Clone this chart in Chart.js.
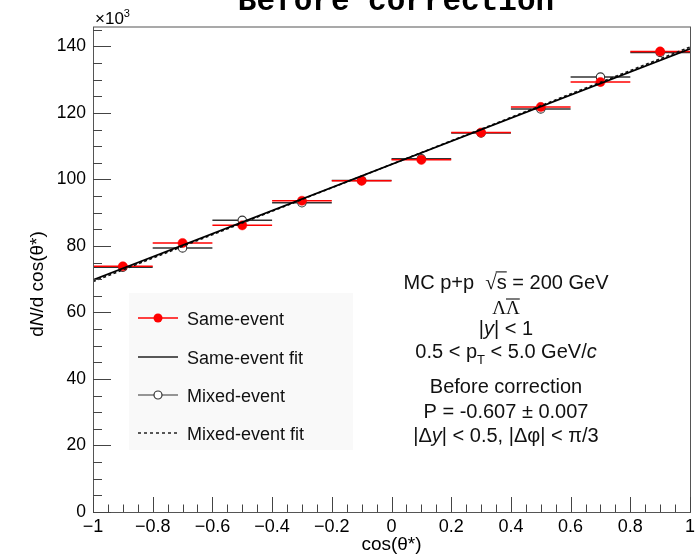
<!DOCTYPE html>
<html><head><meta charset="utf-8">
<script src="https://cdn.jsdelivr.net/npm/chart.js@4"></script>
<style>html,body{margin:0;padding:0;background:#fff;}#wrap{width:700px;height:556px;position:relative;}</style>
</head><body><div id="wrap"><canvas id="c" width="700" height="556"></canvas></div>
<script>
// ---- data (values in units of 10^3) ----
const binCenters = [-0.9, -0.7, -0.5, -0.3, -0.1, 0.1, 0.3, 0.5, 0.7, 0.9];
const binHalfWidth = 0.1;
const sameEvent  = [73.9, 80.9, 86.2, 93.6, 99.6, 105.9, 114.1, 121.8, 129.3, 138.5];
const mixedEvent = [73.6, 79.4, 87.7, 93.0, 99.7, 106.2, 114.0, 121.2, 130.8, 138.2];
const fitX = [-1, 1];
const sameFit  = [69.8, 139.3];
const mixedFit = [69.3, 139.8];
const xTicks = [-1, -0.8, -0.6, -0.4, -0.2, 0, 0.2, 0.4, 0.6, 0.8, 1];
const yTicks = [0, 20, 40, 60, 80, 100, 120, 140];
const xLimits = [-1, 1];
const yLimits = [0, 146];
const xMinorStep = 0.05;
const yMinorStep = 5;

const SANS = '"Liberation Sans", Arial, sans-serif';
const SERIF = '"Liberation Serif", "Times New Roman", serif';

function pts(xs, ys) { return xs.map((x, i) => ({ x: x, y: ys[i] })); }

function richWidth(ctx, segs, size) {
  let w = 0;
  for (const s of segs) {
    ctx.font = (s.italic ? 'italic ' : '') + (size * (s.scale || 1)) + 'px ' + (s.family || SANS);
    w += ctx.measureText(s.t).width;
  }
  return w;
}
function drawRich(ctx, segs, cx, baseY, size, align) {
  const w = richWidth(ctx, segs, size);
  let x = align === 'left' ? cx : cx - w / 2;
  ctx.textAlign = 'left';
  ctx.textBaseline = 'alphabetic';
  for (const s of segs) {
    const fs = size * (s.scale || 1);
    ctx.font = (s.italic ? 'italic ' : '') + fs + 'px ' + (s.family || SANS);
    const sw = ctx.measureText(s.t).width;
    ctx.fillText(s.t, x, baseY + (s.dy || 0));
    if (s.over) {
      ctx.save();
      ctx.lineWidth = 1.1;
      ctx.strokeStyle = ctx.fillStyle;
      ctx.beginPath();
      const oy = baseY + (s.dy || 0) - fs * (s.overH || 0.78);
      ctx.moveTo(x + (s.overL || 0), oy);
      ctx.lineTo(x + sw, oy);
      ctx.stroke();
      ctx.restore();
    }
    x += sw;
  }
}

const rootPlugin = {
  id: 'rootStyle',
  beforeDatasetDraw(chart, args) {
    const ds = chart.data.datasets[args.index];
    if (!ds.binBars) return;
    const ctx = chart.ctx, xs = chart.scales.x, ys = chart.scales.y;
    ctx.save();
    ctx.strokeStyle = ds.barColor;
    ctx.lineWidth = 1.5;
    ds.data.forEach(p => {
      const y = ys.getPixelForValue(p.y);
      ctx.beginPath();
      ctx.moveTo(xs.getPixelForValue(p.x - binHalfWidth), y);
      ctx.lineTo(xs.getPixelForValue(p.x + binHalfWidth), y);
      ctx.stroke();
    });
    ctx.restore();
  },
  afterDraw(chart) {
    const ctx = chart.ctx, a = chart.chartArea, xs = chart.scales.x, ys = chart.scales.y;
    ctx.save();
    // frame
    ctx.strokeStyle = '#555';
    ctx.lineWidth = 1;
    ctx.strokeRect(a.left + 0.5, a.top + 0.5, a.right - a.left, a.bottom - a.top);
    // ticks
    ctx.strokeStyle = '#444';
    ctx.beginPath();
    for (let v = yLimits[0]; v <= yLimits[1] + 1e-9; v += yMinorStep) {
      const y = Math.round(ys.getPixelForValue(v)) + 0.5;
      const major = yTicks.indexOf(Math.round(v * 1000) / 1000) >= 0;
      ctx.moveTo(a.left, y); ctx.lineTo(a.left + (major ? 18 : 9), y);
    }
    for (let k = 0; ; k++) {
      const v = xLimits[0] + k * xMinorStep;
      if (v > xLimits[1] + 1e-9) break;
      const x = Math.round(xs.getPixelForValue(v)) + 0.5;
      const major = k % 4 === 0;
      ctx.moveTo(x, a.bottom); ctx.lineTo(x, a.bottom - (major ? 15 : 7.5));
    }
    ctx.stroke();

    ctx.fillStyle = '#000';
    // title (clipped at top)
    ctx.font = 'bold 31px "Liberation Mono", "Courier New", monospace';
    ctx.textAlign = 'center'; ctx.textBaseline = 'alphabetic';
    ctx.fillText('Before correction', 396, 10);
    // x10^3
    drawRich(ctx, [{ t: '\u00d710' }, { t: '3', scale: 0.65, dy: -7 }], 95, 24, 17, 'left');
    // axis titles
    drawRich(ctx, [{ t: 'cos(\u03b8*)' }], (a.left + a.right) / 2, 550, 19);
    ctx.save();
    ctx.translate(43, 284);
    ctx.rotate(-Math.PI / 2);
    drawRich(ctx, [{ t: 'd' }, { t: 'N', italic: true }, { t: '/d cos(\u03b8*)' }], 0, 0, 19);
    ctx.restore();

    // legend
    ctx.fillStyle = '#f9f9f9';
    ctx.fillRect(129, 293, 224, 157);
    const lx0 = 138, lx1 = 178, tx = 187;
    const rows = [318, 357, 395, 433];
    ctx.lineWidth = 1.3;
    ctx.strokeStyle = '#f00';
    ctx.beginPath(); ctx.moveTo(lx0, rows[0]); ctx.lineTo(lx1, rows[0]); ctx.stroke();
    ctx.fillStyle = '#f00';
    ctx.beginPath(); ctx.arc((lx0 + lx1) / 2, rows[0], 4.5, 0, Math.PI * 2); ctx.fill();
    ctx.strokeStyle = '#222'; ctx.lineWidth = 1.6;
    ctx.beginPath(); ctx.moveTo(lx0, rows[1]); ctx.lineTo(lx1, rows[1]); ctx.stroke();
    ctx.lineWidth = 1.2; ctx.strokeStyle = '#333';
    ctx.beginPath(); ctx.moveTo(lx0, rows[2]); ctx.lineTo(lx1, rows[2]); ctx.stroke();
    ctx.fillStyle = '#fff';
    ctx.beginPath(); ctx.arc((lx0 + lx1) / 2, rows[2], 4, 0, Math.PI * 2); ctx.fill(); ctx.stroke();
    ctx.setLineDash([3, 3]); ctx.lineWidth = 1.5; ctx.strokeStyle = '#222';
    ctx.beginPath(); ctx.moveTo(lx0, rows[3]); ctx.lineTo(lx1, rows[3]); ctx.stroke();
    ctx.setLineDash([]);
    ctx.fillStyle = '#111';
    const labels = ['Same-event', 'Same-event fit', 'Mixed-event', 'Mixed-event fit'];
    labels.forEach((t, i) => drawRich(ctx, [{ t: t }], tx, rows[i] + 6.5, 18, 'left'));

    // annotation block
    const cx = 506, fs = 20, off = fs * 0.36;
    ctx.fillStyle = '#111';
    drawRich(ctx, [{ t: 'MC p+p  ' }, { t: '\u221a', family: SERIF, scale: 1.05 }, { t: 's', over: true, overH: 0.85, overL: -1 }, { t: ' = 200 GeV' }], cx, 281.7 + off, fs);
    drawRich(ctx, [{ t: '\u039b', family: SERIF }, { t: '\u039b', family: SERIF, over: true, overH: 0.8 }], cx, 307 + off, 19);
    drawRich(ctx, [{ t: '|' }, { t: 'y', italic: true }, { t: '| < 1' }], cx, 328 + off, fs);
    drawRich(ctx, [{ t: '0.5 < p' }, { t: 'T', scale: 0.65, dy: 6 }, { t: ' < 5.0 GeV/' }, { t: 'c', italic: true }], cx, 351 + off, fs);
    drawRich(ctx, [{ t: 'Before correction' }], cx, 386 + off, fs);
    drawRich(ctx, [{ t: 'P = -0.607 \u00b1 0.007' }], cx, 411 + off, fs);
    drawRich(ctx, [{ t: '|\u0394' }, { t: 'y', italic: true }, { t: '| < 0.5, |\u0394\u03c6| < \u03c0/3' }], cx, 434.5 + off, fs);
    ctx.restore();
  }
};

function fmtX(v) {
  const r = Math.round(v * 10) / 10;
  let s = r === 0 ? '0' : String(r);
  return s.replace('-', '\u2212');
}

new Chart(document.getElementById('c'), {
  type: 'scatter',
  data: {
    datasets: [
      { label: 'Mixed-event', data: pts(binCenters, mixedEvent), binBars: true, barColor: '#333',
        pointRadius: 4.2, pointBackgroundColor: '#fff', pointBorderColor: '#333', pointBorderWidth: 1.1, order: 4 },
      { label: 'Same-event', data: pts(binCenters, sameEvent), binBars: true, barColor: '#f00',
        pointRadius: 4.6, pointBackgroundColor: '#f00', pointBorderColor: '#f00', pointBorderWidth: 0.5, order: 3 },
      { label: 'Mixed-event fit', data: pts(fitX, mixedFit), showLine: true, pointRadius: 0,
        borderColor: '#111', borderWidth: 1.6, borderDash: [3, 2.5], order: 2 },
      { label: 'Same-event fit', data: pts(fitX, sameFit), showLine: true, pointRadius: 0,
        borderColor: '#000', borderWidth: 1.6, order: 1 }
    ]
  },
  options: {
    responsive: false,
    animation: false,
    events: [],
    layout: { padding: { left: 0, right: 10, top: 26.5, bottom: 0 } },
    plugins: { legend: { display: false }, tooltip: { enabled: false }, title: { display: false } },
    scales: {
      x: {
        type: 'linear', min: xLimits[0], max: xLimits[1],
        afterBuildTicks: s => { s.ticks = xTicks.map(v => ({ value: v })); },
        afterFit: s => { s.height = 44; },
        grid: { display: false, drawTicks: false }, border: { display: false },
        ticks: { callback: v => fmtX(v), color: '#000', padding: 4, maxRotation: 0, autoSkip: false,
          font: { family: SANS, size: 18 } }
      },
      y: {
        type: 'linear', min: yLimits[0], max: yLimits[1],
        afterBuildTicks: s => { s.ticks = yTicks.map(v => ({ value: v })); },
        afterFit: s => { s.width = 93; },
        grid: { display: false, drawTicks: false }, border: { display: false },
        ticks: { callback: v => String(v), color: '#000', padding: 7, autoSkip: false,
          font: { family: SANS, size: 17.5 } }
      }
    }
  },
  plugins: [rootPlugin]
});
</script></body></html>
